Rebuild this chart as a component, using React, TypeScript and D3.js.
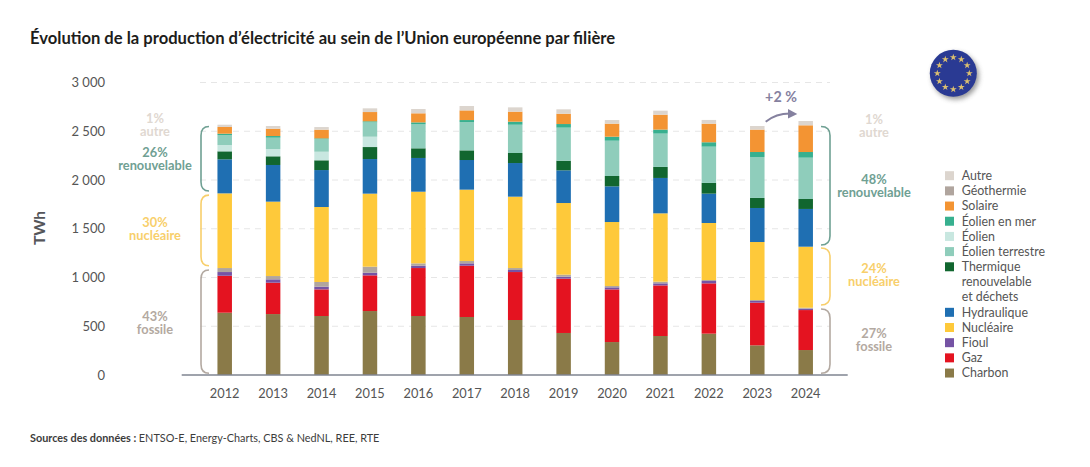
import React from "react";
import * as d3 from "d3";

const years = ["2012","2013","2014","2015","2016","2017","2018","2019","2020","2021","2022","2023","2024"];
const charbon = [639,625,605,656,605,595,564,431,338,400,424,304,256];
const gaz = [379,322,273,366,492,526,492,557,540,519,516,438,410];
const fioul = [38,34,28,27,24,24,21,20,21,21,24,17,14];
const geothermie = [41,34,48,62,24,24,20,21,14,17,10,10,10];
const nucleaire = [766,763,769,749,735,732,732,735,656,701,585,595,626];
const hydraulique = [349,376,379,355,346,304,345,335,366,363,301,349,387];
const thermique = [82,89,100,123,99,99,103,99,106,113,110,103,102];
const eolien = [65,75,88,106,0,0,0,0,0,0,0,0,0];
const eolienTerrestre = [102,116,130,147,246,291,290,339,362,342,372,420,424];
const eolienMer = [14,17,7,11,20,20,31,37,41,41,45,51,58];
const solaire = [69,75,89,95,93,99,103,106,134,153,191,230,274];
const autre = [23,28,27,38,44,45,44,45,37,41,38,37,44];

const stackOrder: [string, number[], string][] = [
  ["Charbon", charbon, "#8a7a48"],
  ["Gaz", gaz, "#e41320"],
  ["Fioul", fioul, "#7553a4"],
  ["Géothermie", geothermie, "#b0a59e"],
  ["Nucléaire", nucleaire, "#fec93a"],
  ["Hydraulique", hydraulique, "#1f6fb2"],
  ["Thermique", thermique, "#11662f"],
  ["Éolien", eolien, "#c8e7e0"],
  ["Éolien terrestre", eolienTerrestre, "#8fcdbb"],
  ["Éolien en mer", eolienMer, "#37b08f"],
  ["Solaire", solaire, "#f39433"],
  ["Autre", autre, "#dcd5ce"],
];

const legendRows: [string[], string][] = [
  [["Autre"], "#dcd5ce"],
  [["Géothermie"], "#b0a59e"],
  [["Solaire"], "#f39433"],
  [["Éolien en mer"], "#37b08f"],
  [["Éolien"], "#c8e7e0"],
  [["Éolien terrestre"], "#8fcdbb"],
  [["Thermique", "renouvelable", "et déchets"], "#11662f"],
  [["Hydraulique"], "#1f6fb2"],
  [["Nucléaire"], "#fec93a"],
  [["Fioul"], "#7553a4"],
  [["Gaz"], "#e41320"],
  [["Charbon"], "#8a7a48"],
];

const yTicks = [0, 500, 1000, 1500, 2000, 2500, 3000];
const RENEW = "#6fa093", NUC = "#f8cf6b", FOSS = "#b3a9a1", OTHER = "#dfd8d1", ARROW = "#85819f";

// annotations : [pourcentage, libellé, couleur, valeur du centre du texte]
const leftNotes: [string, string, string, number][] = [
  ["1%", "autre", OTHER, 2559],
  ["26%", "renouvelable", RENEW, 2216],
  ["30%", "nucléaire", NUC, 1495],
  ["43%", "fossile", FOSS, 530],
];
const rightNotes: [string, string, string, number][] = [
  ["1%", "autre", OTHER, 2549],
  ["48%", "renouvelable", RENEW, 1939],
  ["24%", "nucléaire", NUC, 1025],
  ["27%", "fossile", FOSS, 360],
];
const leftBraces: [number, number, string][] = [
  [1887, 2548, RENEW],
  [1120, 1845, NUC],
  [18, 1077, FOSS],
];
const rightBraces: [number, number, string][] = [
  [1333, 2548, RENEW],
  [718, 1303, NUC],
  [18, 677, FOSS],
];

const FONT = "Lato, 'Noto Sans', sans-serif";
const x = d3.scalePoint<string>().domain(years).range([224.7, 805.7]);
const y = d3.scaleLinear().domain([0, 3000]).range([375, 82.5]);
const BAR = 14.5;

const rows = years.map((yr, i) => {
  const o: Record<string, number | string> = { year: yr };
  stackOrder.forEach(([k, v]) => { o[k] = v[i]; });
  return o;
});
const stacked = d3.stack<any>().keys(stackOrder.map((s) => s[0]))(rows);

function brace(x0: number, x1: number, from: number, to: number) {
  const t = y(to), b = y(from), r = 9;
  return `M${x0},${t}Q${x1},${t} ${x1},${t + r}V${b - r}Q${x1},${b} ${x0},${b}`;
}

const starPath = d3.symbol().type(d3.symbolStar).size(15)() as string;
const flagStars = d3.range(12).map((i) => (i * Math.PI * 2) / 12);

function Notes({ notes, cx }: { notes: typeof leftNotes; cx: number }) {
  return (
    <>
      {notes.map(([p, l, c, v]) => (
        <text key={l} x={cx} y={y(v)} textAnchor="middle" fill={c} fontWeight={700} fontSize={12.8}>
          <tspan x={cx} dy={-2}>{p}</tspan>
          <tspan x={cx} dy={12.8}>{l}</tspan>
        </text>
      ))}
    </>
  );
}

export default function App() {
  return (
    <svg width={1090} height={467} style={{ position: "absolute", left: 0, top: 0, background: "#fff" }} fontFamily={FONT}>
      <defs>
        <filter id="sh" x="-30%" y="-30%" width="170%" height="170%">
          <feGaussianBlur stdDeviation="2.6" />
        </filter>
      </defs>
      <text x={30} y={43.5} fontSize={16.6} fontWeight={700} fill="#1d1d1b">
        Évolution de la production d’électricité au sein de l’Union européenne par filière
      </text>

      {yTicks.slice(1).map((t) => (
        <line key={t} x1={200} x2={830} y1={y(t)} y2={y(t)} stroke="#e6e6e6" strokeWidth={1} strokeDasharray="6 5" />
      ))}
      {yTicks.map((t) => (
        <text key={t} x={105} y={y(t) + 4.5} textAnchor="end" fontSize={13} fill="#555">
          {d3.format(",")(t).replace(",", " ")}
        </text>
      ))}
      <text transform="translate(45,228) rotate(-90)" textAnchor="middle" fontSize={15.5} fontWeight={700} fill="#55565a">TWh</text>

      {stacked.map((s, si) => (
        <g key={s.key} fill={stackOrder[si][2]}>
          {s.map((d, i) => (
            <rect key={i} x={x(years[i])! - BAR / 2} width={BAR} y={y(d[1])} height={y(d[0]) - y(d[1])} />
          ))}
        </g>
      ))}

      <line x1={181.7} x2={847.7} y1={y(0)} y2={y(0)} stroke="#7f8591" strokeWidth={1.4} />
      {years.map((yr) => (
        <text key={yr} x={x(yr)} y={397.5} textAnchor="middle" fontSize={12.8} fill="#555">{yr}</text>
      ))}

      {leftBraces.map(([a, b, c]) => (
        <path key={c} d={brace(209, 201, a, b)} fill="none" stroke={c} strokeWidth={1.6} />
      ))}
      {rightBraces.map(([a, b, c]) => (
        <path key={c} d={brace(821, 830, a, b)} fill="none" stroke={c} strokeWidth={1.6} />
      ))}
      <Notes notes={leftNotes} cx={155} />
      <Notes notes={rightNotes} cx={874} />

      <text x={781} y={102} textAnchor="middle" fontSize={14.3} fontWeight={700} fill={ARROW}>+2 %</text>
      <path d="M765.7,121.7Q776,113.5 790,113.5" fill="none" stroke={ARROW} strokeWidth={2} />
      <path d="M797.3,114L788,109L788,118.5Z" fill={ARROW} />

      <circle cx={955.5} cy={76} r={23.5} fill="#555" opacity={0.6} filter="url(#sh)" />
      <circle cx={953.3} cy={73.3} r={23.5} fill="#2a3a93" />
      {flagStars.map((a, i) => (
        <path key={i} d={starPath} fill="#dcc070"
          transform={`translate(${953.3 + 16 * Math.sin(a)},${73.3 - 16 * Math.cos(a)})`} />
      ))}

      {(() => {
        let row = 0;
        return legendRows.map(([lines, c]) => {
          const cy = 175.7 + row * 15.18;
          row += lines.length;
          return (
            <g key={lines[0]}>
              <rect x={945} y={cy - 4.5} width={9} height={9} fill={c} />
              {lines.map((l, j) => (
                <text key={l} x={961.7} y={cy + 4.3 + j * 15.18} fontSize={12.4} fill="#555">{l}</text>
              ))}
            </g>
          );
        });
      })()}

      <text x={30} y={442} fontSize={10.85} fill="#3c3c3b">
        <tspan fontWeight={700}>Sources des données : </tspan>ENTSO-E, Energy-Charts, CBS &amp; NedNL, REE, RTE
      </text>
    </svg>
  );
}
